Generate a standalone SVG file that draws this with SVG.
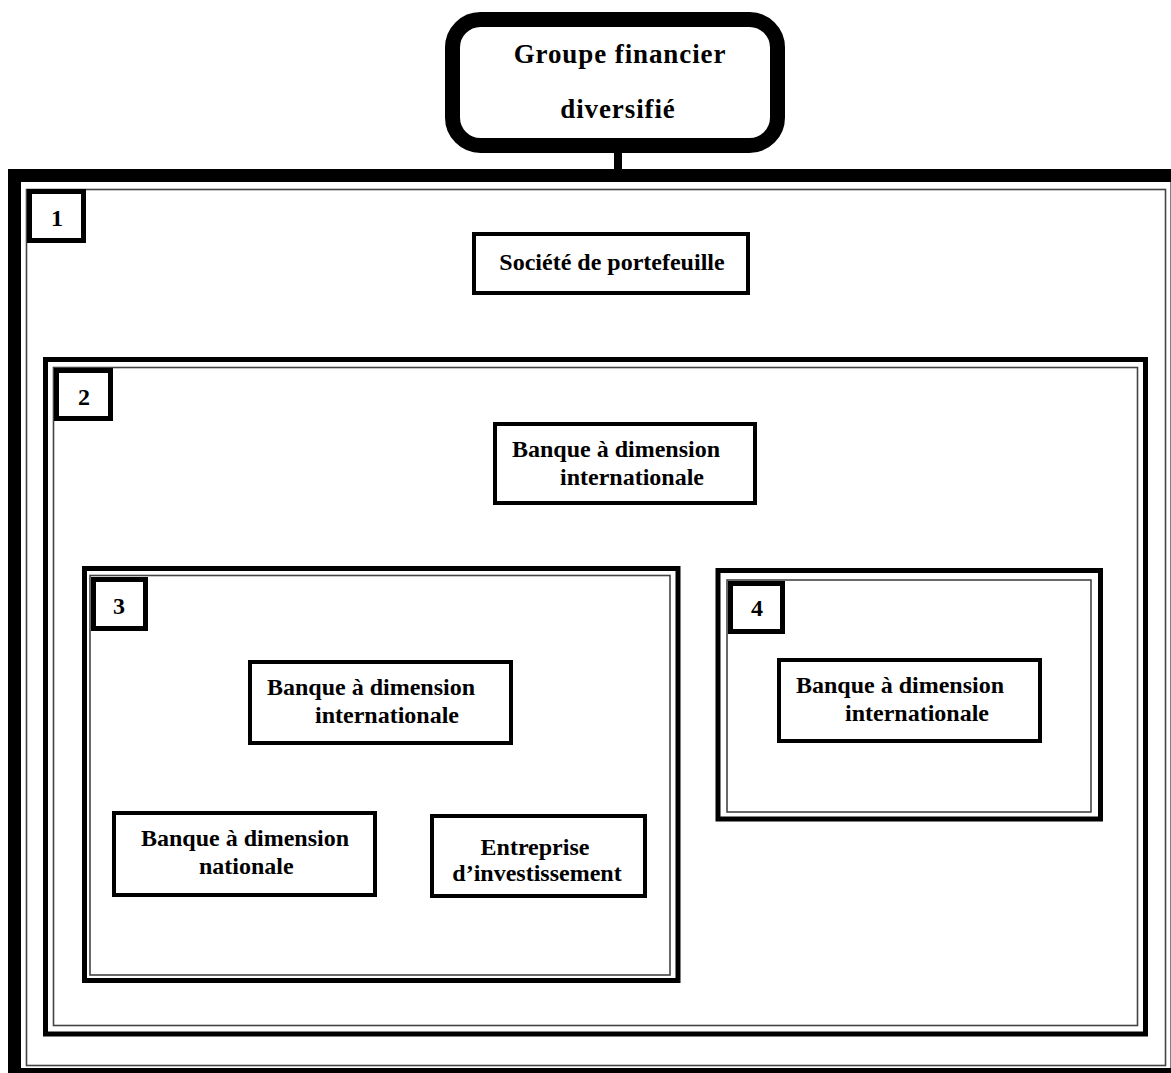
<svg xmlns="http://www.w3.org/2000/svg" width="1171" height="1073" viewBox="0 0 1171 1073">
<style>
  .t{font-family:"Liberation Serif","Times New Roman",serif;font-weight:bold;fill:#000;font-size:24px}
  .num{font-family:"Liberation Serif","Times New Roman",serif;font-weight:bold;fill:#000;font-size:24px;text-anchor:middle}
  .node{fill:#fff;stroke:#000;stroke-width:4}
  .lab{fill:#fff;stroke:#000;stroke-width:5}
  .thick{fill:none;stroke:#000;stroke-width:5}
  .thin{fill:none;stroke:#444;stroke-width:1.6}
</style>
<rect width="1171" height="1073" fill="#fff"/>
<g id="connectors">
  <line x1="618" y1="150" x2="618" y2="172" stroke="#000" stroke-width="8"/>
</g>
<g id="top">
  <rect x="452.5" y="19.5" width="325" height="126" rx="28" ry="28" fill="#fff" stroke="#000" stroke-width="15"/>
  <text class="t" x="620" y="63" text-anchor="middle" style="font-size:27px" letter-spacing="0.9">Groupe financier</text>
  <text class="t" x="618" y="118" text-anchor="middle" style="font-size:27px" letter-spacing="0.9">diversifié</text>
</g>
<g id="box1">
  <rect x="14.5" y="175.5" width="1162.5" height="899" fill="none" stroke="#000" stroke-width="13"/>
  <rect class="thin" x="26.5" y="189.5" width="1139" height="876"/>
  <rect class="lab" x="29.5" y="191.5" width="54" height="49"/>
  <text class="num" x="57" y="226">1</text>
</g>
<g id="societe">
  <rect class="node" x="474" y="234" width="274" height="59"/>
  <text class="t" x="612" y="270" text-anchor="middle">Société de portefeuille</text>
</g>
<g id="box2">
  <rect class="thick" x="45.5" y="359.5" width="1100" height="674.5"/>
  <rect class="thin" x="53.5" y="367.5" width="1084" height="658"/>
  <rect class="lab" x="56.5" y="370.5" width="54" height="48"/>
  <text class="num" x="84" y="405">2</text>
</g>
<g id="banque2">
  <rect class="node" x="495" y="424" width="260" height="79"/>
  <text class="t" x="512" y="457">Banque à dimension</text>
  <text class="t" x="560" y="485">internationale</text>
</g>
<g id="box3">
  <rect class="thick" x="84.5" y="568.5" width="593.5" height="412"/>
  <rect class="thin" x="90" y="575.5" width="580" height="399.5"/>
  <rect class="lab" x="93.5" y="579.5" width="52" height="49"/>
  <text class="num" x="119" y="614">3</text>
</g>
<g id="banque3">
  <rect class="node" x="250" y="662" width="261" height="81"/>
  <text class="t" x="267" y="695">Banque à dimension</text>
  <text class="t" x="315" y="723">internationale</text>
</g>
<g id="banqueNationale">
  <rect class="node" x="114" y="813" width="261" height="82"/>
  <text class="t" x="141" y="846">Banque à dimension</text>
  <text class="t" x="199" y="874">nationale</text>
</g>
<g id="entreprise">
  <rect class="node" x="432" y="816" width="213" height="80"/>
  <text class="t" x="535" y="855" text-anchor="middle">Entreprise</text>
  <text class="t" x="537" y="881" text-anchor="middle">d’investissement</text>
</g>
<g id="box4">
  <rect class="thick" x="718" y="570.5" width="382.5" height="248.5"/>
  <rect class="thin" x="727" y="580" width="364" height="232"/>
  <rect class="lab" x="730.5" y="583.5" width="52" height="48"/>
  <text class="num" x="757" y="616">4</text>
</g>
<g id="banque4">
  <rect class="node" x="779" y="660" width="261" height="81"/>
  <text class="t" x="796" y="693">Banque à dimension</text>
  <text class="t" x="845" y="721">internationale</text>
</g>
</svg>
